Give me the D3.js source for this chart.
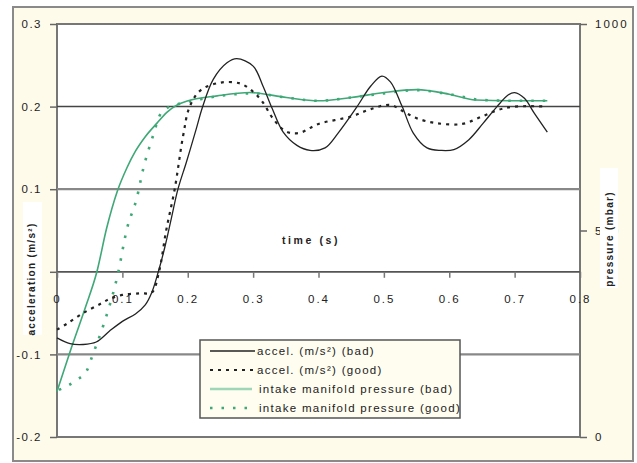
<!DOCTYPE html>
<html><head><meta charset="utf-8">
<script src="https://cdn.jsdelivr.net/npm/d3@7"></script>
<style>
body{margin:0;background:#fff;}
text{font-family:"Liberation Sans",Arial,sans-serif;fill:#222;}
</style></head>
<body><svg id="c" width="637" height="463"></svg>
<script>
// time (s)
const accelBadT = [0,0.02,0.04,0.06,0.08,0.10,0.12,0.135,0.145,0.155,0.165,0.175,0.185,0.198,0.213,0.222,0.239,0.26,0.275,0.30,0.315,0.329,0.346,0.367,0.387,0.41,0.43,0.459,0.48,0.497,0.51,0.528,0.545,0.566,0.587,0.607,0.63,0.652,0.673,0.69,0.70,0.715,0.73,0.75];
const accelBadV = [-0.080,-0.087,-0.088,-0.085,-0.072,-0.060,-0.051,-0.040,-0.025,0.000,0.030,0.065,0.100,0.133,0.173,0.198,0.233,0.253,0.258,0.249,0.225,0.198,0.169,0.153,0.147,0.150,0.168,0.200,0.225,0.237,0.230,0.200,0.168,0.150,0.147,0.148,0.160,0.180,0.200,0.214,0.217,0.210,0.192,0.169];

const accelGoodT = [0,0.015,0.04,0.066,0.08,0.10,0.127,0.145,0.156,0.167,0.18,0.193,0.203,0.22,0.25,0.28,0.30,0.315,0.33,0.35,0.37,0.40,0.45,0.48,0.51,0.53,0.55,0.58,0.62,0.65,0.675,0.70,0.75];
const accelGoodV = [-0.070,-0.063,-0.050,-0.039,-0.033,-0.028,-0.026,-0.025,0.000,0.050,0.100,0.165,0.200,0.220,0.229,0.228,0.218,0.205,0.186,0.170,0.168,0.179,0.188,0.197,0.202,0.194,0.186,0.180,0.179,0.188,0.196,0.200,0.200];

// intake manifold pressure (mbar)
const pressBadT = [0,0.022,0.043,0.061,0.076,0.092,0.107,0.12,0.135,0.153,0.168,0.185,0.198,0.245,0.295,0.351,0.40,0.45,0.50,0.55,0.60,0.64,0.70,0.75];
const pressBadV = [110,216,312,400,506,594,652,692,727,760,786,805,813,826,834,822,814,822,834,841,830,816,814,814];

const pressGoodT = [0.003,0.03,0.046,0.053,0.07,0.093,0.107,0.122,0.132,0.147,0.157,0.168,0.19,0.22,0.25,0.30,0.35,0.40,0.45,0.50,0.55,0.60,0.65,0.70,0.75];
const pressGoodV = [114,138,162,192,266,394,504,578,650,730,778,796,808,818,826,832,822,814,822,832,840,830,816,814,814];

const xTicks = [0,0.1,0.2,0.3,0.4,0.5,0.6,0.7,0.8];
const yLeftTicks = [-0.2,-0.1,0,0.1,0.2,0.3];
const yRightTicks = [0,500,1000];
const gridVals = [-0.1,0.1,0.2];
const seriesNames = ["accel. (m/s²) (bad)","accel. (m/s²) (good)","intake manifold pressure (bad)","intake manifold pressure (good)"];

const svg = d3.select("#c");
const L=57,R=580,T=24,B=437;
const x = d3.scaleLinear().domain([0,0.8]).range([L,R]);
const yL = d3.scaleLinear().domain([-0.2,0.3]).range([B,T]);
const yR = d3.scaleLinear().domain([0,1000]).range([B,T]);

svg.append("rect").attr("x",13).attr("y",7).attr("width",620).attr("height",454)
  .attr("fill","#fffbeb").attr("stroke","#8a8a8a").attr("stroke-width",2);
svg.append("rect").attr("x",L).attr("y",T).attr("width",R-L).attr("height",B-T)
  .attr("fill","#fff").attr("stroke","#777").attr("stroke-width",2);

// gridlines
svg.selectAll(".grid").data(gridVals).enter().append("line")
  .attr("x1",L).attr("x2",R).attr("y1",d=>yL(d)).attr("y2",d=>yL(d))
  .attr("stroke",d=>d===0.2?"#444":"#888").attr("stroke-width",d=>d===0.2?1.5:2.2);

// left axis
const fmt = d => d===0 ? "0" : d.toFixed(1);
const gl = svg.append("g").attr("transform",`translate(${L},0)`)
  .call(d3.axisLeft(yL).tickValues(yLeftTicks).tickSize(7).tickPadding(8).tickFormat(fmt));
gl.select(".domain").remove();
gl.selectAll("line").attr("stroke","#666").attr("stroke-width",1.5);
gl.selectAll("text").style("font-size","11.5px").style("letter-spacing","1.5px").attr("fill","#333");

// right axis
const gr = svg.append("g").attr("transform",`translate(${R},0)`)
  .call(d3.axisRight(yR).tickValues(yRightTicks).tickSize(7).tickPadding(8).tickFormat(d3.format("d")));
gr.select(".domain").remove();
gr.selectAll("line").attr("stroke","#666").attr("stroke-width",1.5);
gr.selectAll("text").style("font-size","11.5px").style("letter-spacing","2px").attr("fill","#333");

// x axis at y=0
const gx = svg.append("g").attr("transform",`translate(0,${yL(0)})`)
  .call(d3.axisBottom(x).tickValues(xTicks).tickSize(6).tickPadding(17).tickFormat(d=>d===0?"0":d.toFixed(1)));
gx.select(".domain").attr("stroke","#555").attr("stroke-width",1.8).attr("d",`M${L},0H${R}`);
gx.selectAll("line").attr("stroke","#777").attr("stroke-width",1.5);
gx.selectAll("text").style("font-size","11.5px").style("letter-spacing","2px").attr("fill","#444");

// axis titles
svg.append("rect").attr("x",23).attr("y",202).attr("width",19).attr("height",133).attr("fill","#fff");
svg.append("text").attr("transform","translate(35,279) rotate(-90)").attr("text-anchor","middle")
  .style("font-size","10px").style("letter-spacing","1.3px").style("font-weight","bold").text("acceleration (m/s²)");
svg.append("rect").attr("x",600).attr("y",168).attr("width",18).attr("height",120).attr("fill","#fff");
svg.append("text").attr("transform","translate(613,239) rotate(-90)").attr("text-anchor","middle")
  .style("font-size","10px").style("letter-spacing","1.3px").style("font-weight","bold").text("pressure (mbar)");
svg.append("text").attr("x",311).attr("y",244).attr("text-anchor","middle")
  .style("font-size","10.5px").style("letter-spacing","2.6px").style("font-weight","bold").text("time (s)");

// series
const curveA = d3.curveCatmullRom.alpha(0.5);
const curveP = d3.curveMonotoneX;
const lineL = d3.line().x(d=>x(d[0])).y(d=>yL(d[1])).curve(curveA);
const lineR = d3.line().x(d=>x(d[0])).y(d=>yR(d[1])).curve(curveP);
const zip = (a,b)=>a.map((t,i)=>[t,b[i]]);
const green = "#3fa877";
const styles = [
  {stroke:"#222",w:1.3,dash:null},
  {stroke:"#222",w:2.2,dash:"3,5"},
  {stroke:green,w:1.6,dash:null},
  {stroke:green,w:2.6,dash:"2.5,9"}
];
svg.append("path").attr("d",lineR(zip(pressBadT,pressBadV))).attr("fill","none")
  .attr("stroke",styles[2].stroke).attr("stroke-width",styles[2].w);
svg.append("path").attr("d",lineR(zip(pressGoodT,pressGoodV))).attr("fill","none")
  .attr("stroke",styles[3].stroke).attr("stroke-width",styles[3].w).attr("stroke-dasharray",styles[3].dash);
svg.append("path").attr("d",lineL(zip(accelBadT,accelBadV))).attr("fill","none")
  .attr("stroke",styles[0].stroke).attr("stroke-width",styles[0].w);
svg.append("path").attr("d",lineL(zip(accelGoodT,accelGoodV))).attr("fill","none")
  .attr("stroke",styles[1].stroke).attr("stroke-width",styles[1].w).attr("stroke-dasharray",styles[1].dash);

// legend
const lg = svg.append("g");
lg.append("rect").attr("x",200).attr("y",340).attr("width",260).attr("height",78)
  .attr("fill","#fffdf0").attr("stroke","#555").attr("stroke-width",1.5);
seriesNames.forEach((n,i)=>{
  const yy = 351 + i*19;
  const s = styles[i];
  lg.append("line").attr("x1",210).attr("x2",i<2?255:252).attr("y1",yy).attr("y2",yy)
    .attr("stroke",i===2?"#9fd6b8":s.stroke).attr("stroke-width",i===2?2.5:s.w)
    .attr("stroke-dasharray",s.dash);
  lg.append("text").attr("x",i<2?257:259).attr("y",yy+4)
    .style("font-size","11.5px").style("letter-spacing","1.3px").text(n);
});
</script></body></html>
